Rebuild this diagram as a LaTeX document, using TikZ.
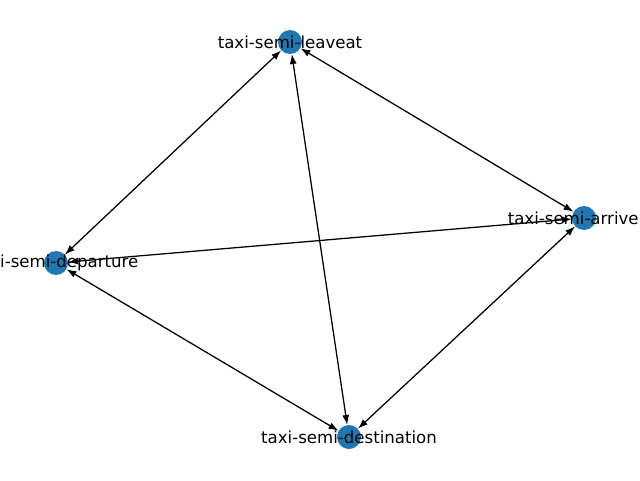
\documentclass[tikz,border=0pt]{standalone}
\usepackage{fontspec}
\setmainfont{DejaVu Sans}
\usetikzlibrary{arrows.meta}
\definecolor{nodeblue}{HTML}{1F77B4}

\begin{document}
\begin{tikzpicture}[
    slot/.style={circle,fill=nodeblue,inner sep=0pt,minimum size=0.6cm},
    tag/.style={font=\fontsize{11.8}{14}\selectfont,inner sep=0pt},
    link/.style={{Latex[length=7pt,width=5pt]}-{Latex[length=7pt,width=5pt]},line width=0.9pt}
]
    % Canvas
    \useasboundingbox (0,0) rectangle (16,12);

    % Nodes
    \node[slot] (leaveat) at (7.25,10.95) {};
    \node[slot] (arrive) at (14.6,6.55) {};
    \node[slot] (departure) at (1.4,5.425) {};
    \node[slot] (destination) at (8.725,1.075) {};

    % Edges
    \draw[link] (leaveat) -- (departure);
    \draw[link] (leaveat) -- (arrive);
    \draw[link] (leaveat) -- (destination);
    \draw[link] (departure) -- (arrive);
    \draw[link] (departure) -- (destination);
    \draw[link] (arrive) -- (destination);

    % Labels
    \node[tag] (leaveat-text) at (leaveat) {taxi-semi-leaveat};
    \node[tag] (arrive-text) at ([xshift=-0.27cm]arrive) {taxi-semi-arrive};
    \node[tag] (departure-text) at (departure) {taxi-semi-departure};
    \node[tag] (destination-text) at (destination) {taxi-semi-destination};
\end{tikzpicture}
\end{document}
